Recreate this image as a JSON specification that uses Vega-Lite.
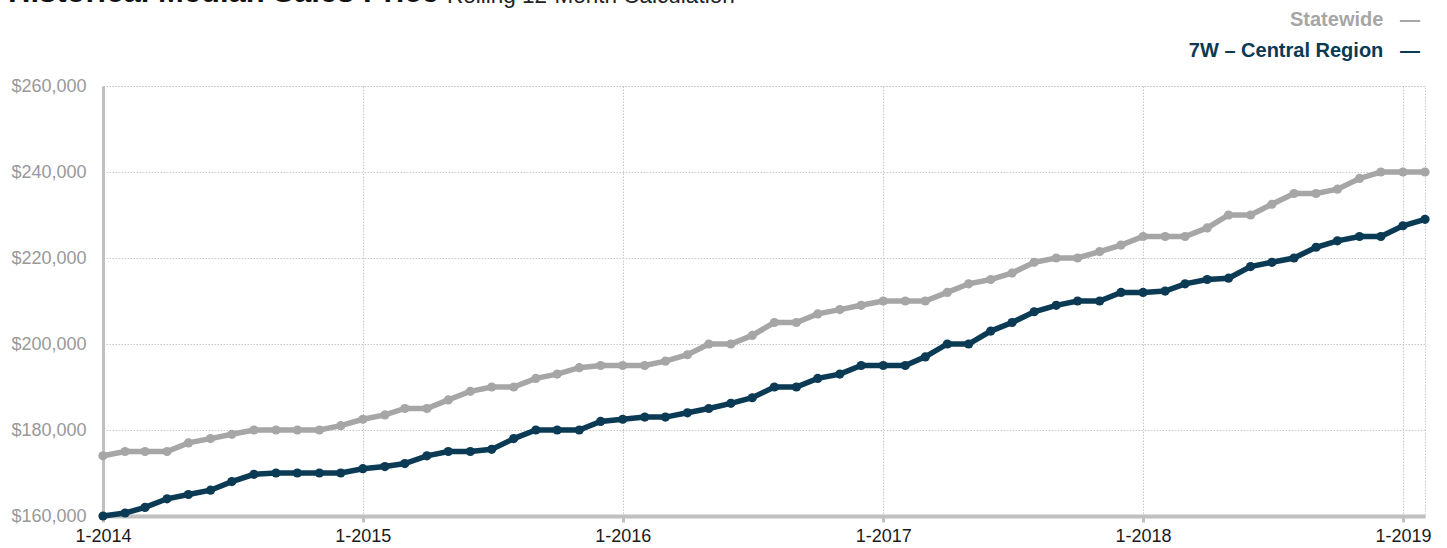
{
  "$schema": "https://vega.github.io/schema/vega-lite/v6.json",
  "width": 1322,
  "height": 430,
  "autosize": {"type": "none"},
  "padding": {"left": 103, "top": 86, "right": 22, "bottom": 32},
  "background": "white",
  "title": {
    "text": "Historical Median Sales Price",
    "subtitle": "Rolling 12-Month Calculation",
    "anchor": "start",
    "frame": "group",
    "font": "Liberation Sans",
    "fontSize": 31,
    "fontWeight": "bold",
    "color": "#111111",
    "subtitleFont": "Liberation Sans",
    "subtitleFontSize": 22.5,
    "subtitleColor": "#222222",
    "subtitlePadding": -24,
    "dx": -95,
    "offset": 1,
    "encode": {"subtitle": {"update": {"dx": {"value": 344}}}}
  },
  "data": {
    "values": [
      {"month": "2014/01/01", "Statewide": 174000, "7W – Central Region": 160000},
      {"month": "2014/02/01", "Statewide": 175000, "7W – Central Region": 160700},
      {"month": "2014/03/01", "Statewide": 175000, "7W – Central Region": 162000},
      {"month": "2014/04/01", "Statewide": 175000, "7W – Central Region": 164000},
      {"month": "2014/05/01", "Statewide": 177000, "7W – Central Region": 165000},
      {"month": "2014/06/01", "Statewide": 178000, "7W – Central Region": 166000},
      {"month": "2014/07/01", "Statewide": 179000, "7W – Central Region": 168000},
      {"month": "2014/08/01", "Statewide": 180000, "7W – Central Region": 169700},
      {"month": "2014/09/01", "Statewide": 180000, "7W – Central Region": 170000},
      {"month": "2014/10/01", "Statewide": 180000, "7W – Central Region": 170000},
      {"month": "2014/11/01", "Statewide": 180000, "7W – Central Region": 170000},
      {"month": "2014/12/01", "Statewide": 181000, "7W – Central Region": 170000},
      {"month": "2015/01/01", "Statewide": 182500, "7W – Central Region": 171000},
      {"month": "2015/02/01", "Statewide": 183500, "7W – Central Region": 171500},
      {"month": "2015/03/01", "Statewide": 185000, "7W – Central Region": 172200},
      {"month": "2015/04/01", "Statewide": 185000, "7W – Central Region": 174000},
      {"month": "2015/05/01", "Statewide": 187000, "7W – Central Region": 175000},
      {"month": "2015/06/01", "Statewide": 189000, "7W – Central Region": 175000},
      {"month": "2015/07/01", "Statewide": 190000, "7W – Central Region": 175500},
      {"month": "2015/08/01", "Statewide": 190000, "7W – Central Region": 178000},
      {"month": "2015/09/01", "Statewide": 192000, "7W – Central Region": 180000},
      {"month": "2015/10/01", "Statewide": 193000, "7W – Central Region": 180000},
      {"month": "2015/11/01", "Statewide": 194500, "7W – Central Region": 180000},
      {"month": "2015/12/01", "Statewide": 195000, "7W – Central Region": 182000},
      {"month": "2016/01/01", "Statewide": 195000, "7W – Central Region": 182500},
      {"month": "2016/02/01", "Statewide": 195000, "7W – Central Region": 183000},
      {"month": "2016/03/01", "Statewide": 196000, "7W – Central Region": 183000},
      {"month": "2016/04/01", "Statewide": 197500, "7W – Central Region": 184000},
      {"month": "2016/05/01", "Statewide": 200000, "7W – Central Region": 185000},
      {"month": "2016/06/01", "Statewide": 200000, "7W – Central Region": 186200},
      {"month": "2016/07/01", "Statewide": 202000, "7W – Central Region": 187500},
      {"month": "2016/08/01", "Statewide": 205000, "7W – Central Region": 190000},
      {"month": "2016/09/01", "Statewide": 205000, "7W – Central Region": 190000},
      {"month": "2016/10/01", "Statewide": 207000, "7W – Central Region": 192000},
      {"month": "2016/11/01", "Statewide": 208000, "7W – Central Region": 193000},
      {"month": "2016/12/01", "Statewide": 209000, "7W – Central Region": 195000},
      {"month": "2017/01/01", "Statewide": 210000, "7W – Central Region": 195000},
      {"month": "2017/02/01", "Statewide": 210000, "7W – Central Region": 195000},
      {"month": "2017/03/01", "Statewide": 210000, "7W – Central Region": 197000},
      {"month": "2017/04/01", "Statewide": 212000, "7W – Central Region": 200000},
      {"month": "2017/05/01", "Statewide": 214000, "7W – Central Region": 200000},
      {"month": "2017/06/01", "Statewide": 215000, "7W – Central Region": 203000},
      {"month": "2017/07/01", "Statewide": 216500, "7W – Central Region": 205000},
      {"month": "2017/08/01", "Statewide": 219000, "7W – Central Region": 207500},
      {"month": "2017/09/01", "Statewide": 220000, "7W – Central Region": 209000},
      {"month": "2017/10/01", "Statewide": 220000, "7W – Central Region": 210000},
      {"month": "2017/11/01", "Statewide": 221500, "7W – Central Region": 210000},
      {"month": "2017/12/01", "Statewide": 223000, "7W – Central Region": 212000},
      {"month": "2018/01/01", "Statewide": 225000, "7W – Central Region": 212000},
      {"month": "2018/02/01", "Statewide": 225000, "7W – Central Region": 212300},
      {"month": "2018/03/01", "Statewide": 225000, "7W – Central Region": 214000},
      {"month": "2018/04/01", "Statewide": 227000, "7W – Central Region": 215000},
      {"month": "2018/05/01", "Statewide": 230000, "7W – Central Region": 215300},
      {"month": "2018/06/01", "Statewide": 230000, "7W – Central Region": 218000},
      {"month": "2018/07/01", "Statewide": 232500, "7W – Central Region": 219000},
      {"month": "2018/08/01", "Statewide": 235000, "7W – Central Region": 220000},
      {"month": "2018/09/01", "Statewide": 235000, "7W – Central Region": 222500},
      {"month": "2018/10/01", "Statewide": 236000, "7W – Central Region": 224000},
      {"month": "2018/11/01", "Statewide": 238500, "7W – Central Region": 225000},
      {"month": "2018/12/01", "Statewide": 240000, "7W – Central Region": 225000},
      {"month": "2019/01/01", "Statewide": 240000, "7W – Central Region": 227500},
      {"month": "2019/02/01", "Statewide": 240000, "7W – Central Region": 229000}
    ]
  },
  "transform": [
    {"fold": ["Statewide", "7W – Central Region"], "as": ["series", "price"]}
  ],
  "mark": {
    "type": "line",
    "strokeWidth": 5.5,
    "point": {"filled": true, "size": 85, "opacity": 1}
  },
  "encoding": {
    "x": {
      "field": "month",
      "type": "temporal",
      "scale": {"domain": [{"year": 2014, "month": 1, "date": 1}, {"year": 2019, "month": 2, "date": 1}]},
      "axis": {
        "title": null,
        "format": "%-m-%Y",
        "values": [
          {"year": 2014, "month": 1, "date": 1},
          {"year": 2015, "month": 1, "date": 1},
          {"year": 2016, "month": 1, "date": 1},
          {"year": 2017, "month": 1, "date": 1},
          {"year": 2018, "month": 1, "date": 1},
          {"year": 2019, "month": 1, "date": 1}
        ],
        "labelFont": "Liberation Sans",
        "labelFontSize": 18,
        "labelColor": "#1a1a1a",
        "labelPadding": 5,
        "labelFlush": false,
        "labelOverlap": false,
        "domainColor": "#c0c0c0",
        "domainWidth": 4,
        "tickColor": "#c0c0c0",
        "tickWidth": 3,
        "tickSize": 6,
        "grid": true,
        "gridColor": "#c8c8c8",
        "gridDash": [1.5, 1.5],
        "gridWidth": 1
      }
    },
    "y": {
      "field": "price",
      "type": "quantitative",
      "scale": {"domain": [160000, 260000], "nice": false, "zero": false},
      "axis": {
        "title": null,
        "values": [160000, 180000, 200000, 220000, 240000, 260000],
        "format": "$,.0f",
        "labelFont": "Liberation Sans",
        "labelFontSize": 18,
        "labelColor": "#999999",
        "labelPadding": 17,
        "ticks": false,
        "domainColor": "#c0c0c0",
        "domainWidth": 3,
        "grid": true,
        "gridColor": "#c8c8c8",
        "gridDash": [1.5, 1.5],
        "gridWidth": 1
      }
    },
    "color": {
      "field": "series",
      "type": "nominal",
      "scale": {"domain": ["Statewide", "7W – Central Region"], "range": ["#a6a6a6", "#0b3a55"]},
      "legend": {
        "title": null,
        "orient": "none",
        "legendX": 1297,
        "legendY": -76,
        "direction": "vertical",
        "symbolSize": 0,
        "symbolOpacity": 0,
        "symbolStrokeWidth": 0,
        "labelOffset": 0,
        "labelAlign": "right",
        "labelFont": "Liberation Sans",
        "labelFontSize": 20,
        "labelFontWeight": "bold",
        "labelLimit": 500,
        "rowPadding": 11,
        "labelExpr": "datum.label + '\u00a0\u00a0\u00a0—'",
        "encode": {"labels": {"update": {"fill": {"scale": "color", "field": "value"}}}}
      }
    }
  },
  "config": {
    "view": {"stroke": "#c8c8c8", "strokeDash": [1.5, 1.5], "strokeWidth": 1},
    "font": "Liberation Sans"
  }
}
